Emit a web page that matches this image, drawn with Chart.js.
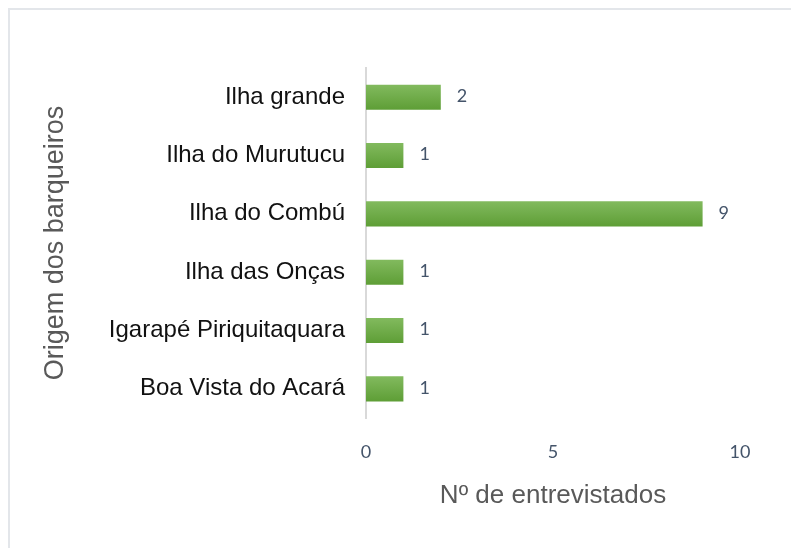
<!DOCTYPE html>
<html>
<head>
<meta charset="utf-8">
<script src="https://cdn.jsdelivr.net/npm/chart.js@4"></script>
<style>
  body { margin: 0; background: #fff; }
  #frame { position: absolute; left: 8px; top: 8px; width: 820px; height: 580px; border: 2px solid #e3e6ea; }
  #wrap { position: absolute; left: 0; top: 0; width: 791px; height: 548px; }
</style>
</head>
<body>
<div id="frame"></div>
<div id="wrap"><canvas id="origem" width="791" height="548"></canvas></div>
<script>
var categorias = ["Ilha grande", "Ilha do Murutucu", "Ilha do Combú", "Ilha das Onças", "Igarapé Piriquitaquara", "Boa Vista do Acará"];
var entrevistados = [2, 1, 9, 1, 1, 1];
var ticksX = [0, 5, 10];

// gradient fill per bar, computed once the y scale knows its pixels
var barGradients = {
  id: 'barGradients',
  beforeDatasetsUpdate: function (chart) {
    var y = chart.scales.y;
    var half = 12.5;
    chart.data.datasets[0].backgroundColor = entrevistados.map(function (v, i) {
      var cy = y.getPixelForValue(i);
      var g = chart.ctx.createLinearGradient(0, cy - half, 0, cy + half);
      g.addColorStop(0, '#82BA5E');
      g.addColorStop(1, '#5E9E36');
      return g;
    });
  }
};

var valueLabels = {
  id: 'valueLabels',
  afterDatasetsDraw: function (chart) {
    var c = chart.ctx;
    var meta = chart.getDatasetMeta(0);
    c.save();
    c.font = '18px Lato, "Open Sans", sans-serif';
    c.fillStyle = '#44546A';
    c.textAlign = 'left';
    c.textBaseline = 'middle';
    meta.data.forEach(function (bar, i) {
      c.fillText(entrevistados[i], bar.x + 16, bar.y - 1);
    });
    c.restore();
  }
};

var ctx = document.getElementById("origem");
var chart = new Chart(ctx, {
  type: 'bar',
  data: {
    labels: categorias,
    datasets: [{
      data: entrevistados,
      backgroundColor: '#70AD47',
      barPercentage: 0.43,
      categoryPercentage: 1
    }]
  },
  options: {
    indexAxis: 'y',
    responsive: false,
    animation: false,
    layout: { padding: { top: 68, right: 51, left: 20, bottom: 0 } },
    plugins: { legend: { display: false }, tooltip: { enabled: false } },
    scales: {
      x: {
        min: 0, max: 10,
        afterBuildTicks: function (axis) { axis.ticks = ticksX.map(function (v) { return { value: v }; }); },
        afterFit: function (axis) { axis.height = 130; },
        grid: { display: false, drawTicks: false },
        border: { display: false },
        ticks: { color: '#44546A', font: { size: 18, family: 'Lato, "Open Sans", sans-serif' }, padding: 23 },
        title: { display: true, text: 'Nº de entrevistados', color: '#595959', font: { size: 26, family: '"Liberation Sans", Arial, sans-serif' }, padding: { top: 4, bottom: 37 } }
      },
      y: {
        afterFit: function (axis) { axis.width = 346; },
        grid: { display: false, drawTicks: false },
        border: { display: true, color: '#D9D9D9', width: 2 },
        ticks: { color: '#111111', font: { size: 24, family: '"Liberation Sans", Arial, sans-serif' }, padding: 21 },
        title: { display: true, text: 'Origem dos barqueiros', color: '#595959', font: { size: 27, family: '"Liberation Sans", Arial, sans-serif' }, padding: { top: 19, bottom: 0 } }
      }
    }
  },
  plugins: [barGradients, valueLabels]
});
</script>
</body>
</html>
